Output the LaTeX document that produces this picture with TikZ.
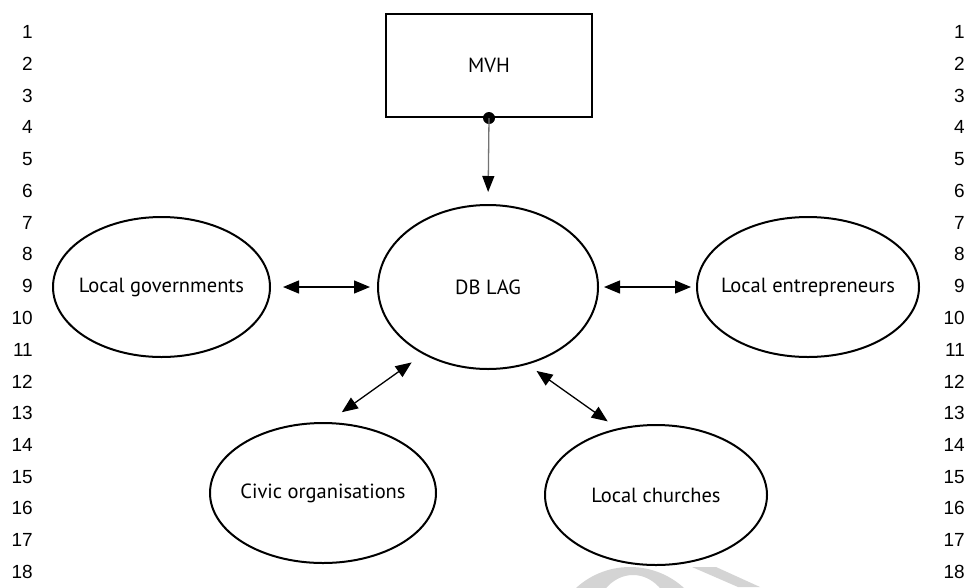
\documentclass[tikz,border=0pt]{standalone}
\usepackage{fontspec}
\newfontfamily\numfont{Liberation Sans}
\newfontfamily\labfont{PT Sans}
\usetikzlibrary{shapes.geometric,arrows.meta}
% centred label of zero width, so the oval keeps its given size
\newcommand{\ovaltext}[1]{\makebox[0pt]{#1}}
\tikzset{
  linenum/.style={font=\numfont\fontsize{19}{19}\selectfont, inner sep=0pt, text=black},
  oval/.style={ellipse, draw=black, line width=2pt, inner sep=0pt,
    minimum width=#1, minimum height=140pt,
    font=\labfont\fontsize{20.5}{20.5}\selectfont, text=black},
  boxnode/.style={draw=black, line width=2pt, inner sep=0pt,
    minimum width=206pt, minimum height=103pt,
    font=\labfont\fontsize{20.5}{20.5}\selectfont, text=black},
  link/.style={line width=1.3pt, {Triangle[length=16pt,width=13pt]}-{Triangle[length=16pt,width=13pt]}},
  feed/.style={line width=1.3pt, draw=black!55, -{Triangle[length=16pt,width=12pt,color=black]}},
  stamp/.style={fill=black!17, draw=none},
}
\begin{document}
\begin{tikzpicture}[x=1pt,y=-1pt]
\useasboundingbox (0,0) rectangle (968,587);
\fill[white] (0,0) rectangle (968,587);

% faint stamp shapes cut off by the lower edge
\begin{scope}
  \clip (0,0) rectangle (968,587);
  \fill[stamp, even odd rule] (630,647) circle (80pt)
       (633,625) ellipse [x radius=40pt, y radius=50pt];
  \fill[stamp] (692,567) -- (716,567) -- (760,587) -- (738,587) -- cycle;
\end{scope}

% line numbers in both margins
\foreach \i in {1,...,18}{
  \node[linenum, anchor=east] (nl\i) at (33,{32+(\i-1)*31.76}) {\i};
  \node[linenum, anchor=east] (nr\i) at (965,{32+(\i-1)*31.76}) {\i};
}

% organisations
\node[boxnode] (mvh) at (489,65.5) {MVH};
\node[oval=220pt, minimum height=164pt] (db) at (488,287) {\ovaltext{DB LAG}};
\node[oval=217pt] (lg) at (161.5,287) {\ovaltext{Local governments}};
\node[oval=222pt] (le) at (808,287) {\ovaltext{Local entrepreneurs}};
\node[oval=226pt] (co) at (323,493) {\ovaltext{Civic organisations}};
\node[oval=222pt] (lc) at (656,495) {\ovaltext{Local churches}};

% relations
\fill (mvh.south) circle (6pt);
\draw[feed, shorten >=12pt] (mvh.south) -- (db.north);
\draw[link, shorten <=12pt, shorten >=7pt] (lg.east) -- (db.west);
\draw[link, shorten <=5pt, shorten >=5pt] (db.east) -- (le.west);
\draw[link, shorten <=14pt, shorten >=17pt] (db.226) -- (co.86);
\draw[link, shorten <=11pt, shorten >=12pt] (db.-63) -- (lc.120);
\end{tikzpicture}
\end{document}
